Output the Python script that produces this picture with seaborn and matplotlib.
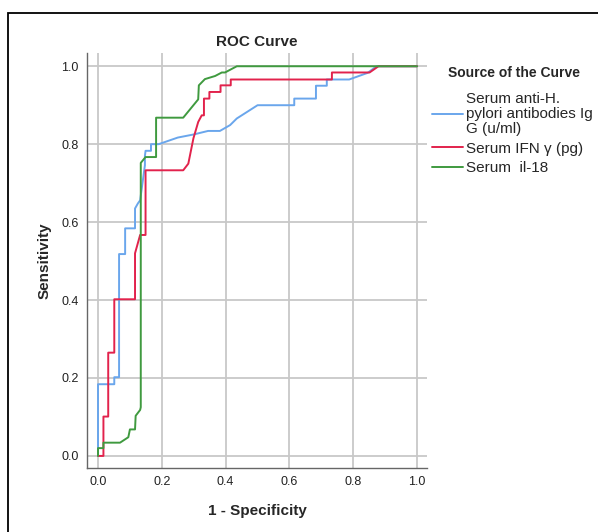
import pandas as pd
import seaborn as sns
import matplotlib.pyplot as plt
from matplotlib.patches import Rectangle

# ROC points (1 - specificity, sensitivity)
blue_x = [0, 0, 0.051, 0.051, 0.066, 0.066, 0.085, 0.085, 0.116, 0.116, 0.125, 0.132,
          0.147, 0.147, 0.149, 0.166, 0.166, 0.19, 0.25, 0.30, 0.345, 0.382, 0.414,
          0.435, 0.50, 0.615, 0.615, 0.683, 0.683, 0.717, 0.717, 0.787, 0.845, 0.873, 1.0]
blue_y = [0, 0.184, 0.184, 0.202, 0.202, 0.518, 0.518, 0.584, 0.584, 0.635, 0.648, 0.656,
          0.746, 0.77, 0.783, 0.783, 0.80, 0.80, 0.817, 0.825, 0.834, 0.834, 0.849,
          0.866, 0.90, 0.90, 0.917, 0.917, 0.95, 0.95, 0.966, 0.966, 0.983, 1.0, 1.0]

red_x = [0, 0.017, 0.017, 0.032, 0.032, 0.051, 0.051, 0.116, 0.116, 0.132, 0.149, 0.149,
         0.267, 0.283, 0.299, 0.314, 0.325, 0.332, 0.332, 0.349, 0.349, 0.384, 0.384,
         0.416, 0.416, 0.733, 0.733, 0.851, 0.879, 1.0]
red_y = [0, 0, 0.101, 0.101, 0.265, 0.265, 0.402, 0.402, 0.52, 0.567, 0.567, 0.733,
         0.733, 0.75, 0.815, 0.857, 0.874, 0.874, 0.917, 0.917, 0.934, 0.934, 0.951,
         0.951, 0.966, 0.966, 0.984, 0.984, 1.0, 1.0]

green_x = [0, 0, 0.017, 0.017, 0.069, 0.095, 0.10, 0.116, 0.118, 0.132, 0.134, 0.134,
           0.149, 0.182, 0.182, 0.267, 0.314, 0.316, 0.335, 0.367, 0.388, 0.398, 0.435, 1.0]
green_y = [0, 0.02, 0.02, 0.034, 0.034, 0.048, 0.068, 0.068, 0.103, 0.118, 0.125, 0.752,
           0.767, 0.767, 0.868, 0.868, 0.915, 0.951, 0.967, 0.975, 0.984, 0.984, 1.0, 1.0]

labels = ["Serum anti-H.\npylori antibodies Ig\nG (u/ml)", "Serum IFN γ (pg)", "Serum  il-18"]
colors = ["#6aa6ec", "#e2224c", "#3f9a3f"]
ticks = [0.0, 0.2, 0.4, 0.6, 0.8, 1.0]

sns.set_theme(style="white")
plt.rcParams["font.family"] = ["Liberation Sans", "DejaVu Sans"]

fig = plt.figure(figsize=(5.98, 5.32), dpi=100)
ax = fig.add_axes([87 / 598, 1 - 468 / 532, (427 - 87) / 598, (468 - 53) / 532])

# one path per curve, points kept in the order they were read
for lab, c, xs, ys in zip(labels, colors, [blue_x, red_x, green_x], [blue_y, red_y, green_y]):
    sns.lineplot(x=xs, y=ys, sort=False, estimator=None, color=c, linewidth=1.4,
                 ax=ax, label=lab)

ax.set_xlim(-0.0345, 1.031)
ax.set_ylim(-0.031, 1.034)
ax.set_xticks(ticks)
ax.set_yticks(ticks)
ax.set_xticklabels([f"{t:.1f}" for t in ticks])
ax.set_yticklabels([f"{t:.1f}" for t in ticks])
ax.grid(True, color="#c8c8c8", linewidth=1.3)
ax.set_axisbelow(True)
for s in ["top", "right"]:
    ax.spines[s].set_visible(False)
for s in ["left", "bottom"]:
    ax.spines[s].set_color("#666666")
    ax.spines[s].set_linewidth(1.0)
ax.tick_params(axis="both", labelsize=9, colors="#222222", length=3, color="#c8c8c8", pad=3)

ax.set_title("ROC Curve", fontsize=11, fontweight="bold", pad=5)
ax.set_xlabel("1 - Specificity", fontsize=11, fontweight="bold", labelpad=11)
ax.set_ylabel("Sensitivity", fontsize=11, fontweight="bold", labelpad=7)

fig.text(514 / 598, 1 - 73 / 532, "Source of the Curve", fontsize=10, fontweight="bold",
         ha="center", va="center")
leg = ax.legend(loc="upper left", bbox_to_anchor=(432 / 598, 1 - 92 / 532),
                bbox_transform=fig.transFigure, frameon=False,
                fontsize=11, handlelength=2.0, handletextpad=0.25, labelspacing=0.38,
                borderaxespad=0, borderpad=0)
for t in leg.get_texts():
    t.set_linespacing(1.08)

fig.patches.append(Rectangle((8 / 598, -0.05), 1.05, 1 - 13 / 532 + 0.05,
                             transform=fig.transFigure, fill=False,
                             edgecolor="black", linewidth=1.3))

fig.savefig("out.png", dpi=100)
